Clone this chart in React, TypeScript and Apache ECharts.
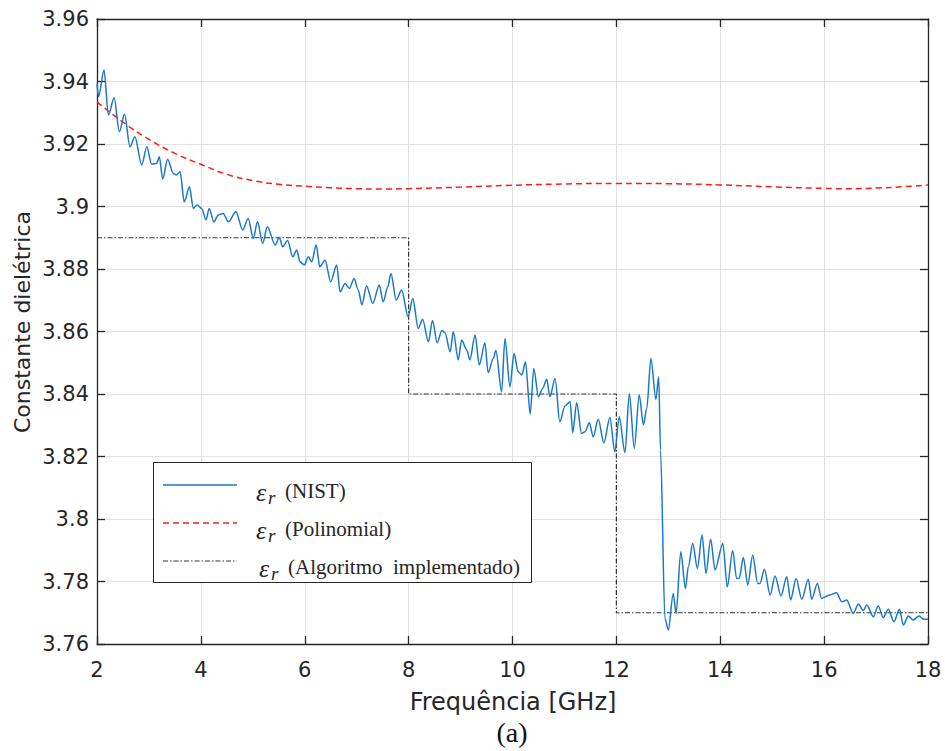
import React, { useEffect, useRef } from "react";
import * as echarts from "echarts";

// ---- data ----
const nistFreq = [
  2.0, 2.03, 2.135, 2.22, 2.33, 2.43, 2.53, 2.635, 2.73, 2.86,
  2.96, 3.05, 3.15, 3.2, 3.265, 3.36, 3.47, 3.53, 3.6, 3.68,
  3.78, 3.855, 3.93, 4.015, 4.1, 4.16, 4.25, 4.335, 4.43, 4.53,
  4.675, 4.805, 4.91, 5.01, 5.09, 5.19, 5.28, 5.43, 5.51, 5.575,
  5.67, 5.77, 5.845, 5.91, 5.99, 6.07, 6.135, 6.22, 6.29, 6.39,
  6.5, 6.615, 6.68, 6.775, 6.86, 6.95, 7.03, 7.1, 7.19, 7.31,
  7.435, 7.51, 7.6, 7.66, 7.76, 7.865, 7.99, 8.08, 8.185, 8.27,
  8.38, 8.46, 8.55, 8.64, 8.7, 8.8, 8.86, 8.955, 9.02, 9.12,
  9.18, 9.28, 9.36, 9.47, 9.53, 9.63, 9.68, 9.79, 9.855, 9.95,
  10.03, 10.11, 10.18, 10.25, 10.34, 10.41, 10.5, 10.58, 10.66, 10.72,
  10.82, 10.91, 11.01, 11.11, 11.16, 11.235, 11.33, 11.395, 11.48, 11.555,
  11.65, 11.76, 11.875, 11.97, 12.055, 12.165, 12.25, 12.345, 12.44, 12.52,
  12.585, 12.665, 12.76, 12.815, 12.85, 12.935, 13.0, 13.095, 13.15, 13.24,
  13.33, 13.385, 13.47, 13.56, 13.65, 13.725, 13.815, 13.9, 14.05, 14.135,
  14.24, 14.315, 14.365, 14.445, 14.53, 14.625, 14.72, 14.765, 14.85, 14.96,
  15.055, 15.17, 15.28, 15.355, 15.46, 15.57, 15.695, 15.76, 15.87, 15.95,
  16.11, 16.24, 16.34, 16.435, 16.56, 16.66, 16.755, 16.82, 16.95, 17.04,
  17.14, 17.235, 17.345, 17.45, 17.525, 17.62, 17.715, 17.83, 17.91, 18.0,
];
const nistEps = [
  3.9394, 3.9351, 3.9437, 3.9293, 3.9348, 3.9239, 3.9295, 3.9191, 3.9223, 3.9133,
  3.9191, 3.9136, 3.9138, 3.9159, 3.9088, 3.9151, 3.9106, 3.9101, 3.9111, 3.9015,
  3.9063, 3.8994, 3.9005, 3.8994, 3.8957, 3.8994, 3.8951, 3.8973, 3.8978, 3.8951,
  3.8983, 3.8925, 3.8962, 3.8898, 3.8951, 3.8882, 3.8935, 3.8877, 3.8901, 3.8871,
  3.8891, 3.8839, 3.8861, 3.8823, 3.8813, 3.8839, 3.8823, 3.8877, 3.8807, 3.8829,
  3.8759, 3.8813, 3.8727, 3.8754, 3.8738, 3.877, 3.8733, 3.8685, 3.8746, 3.869,
  3.8749, 3.8695, 3.8743, 3.8786, 3.8701, 3.8733, 3.8647, 3.8706, 3.861, 3.8639,
  3.8567, 3.8635, 3.8564, 3.8603, 3.8596, 3.8535, 3.8599, 3.8509, 3.8573, 3.8541,
  3.8509, 3.8589, 3.8493, 3.8564, 3.8468, 3.8514, 3.8539, 3.8407, 3.8578, 3.8423,
  3.853, 3.8471, 3.8461, 3.8503, 3.8336, 3.8482, 3.8391, 3.8418, 3.8447, 3.8391,
  3.845, 3.8311, 3.8362, 3.8375, 3.8276, 3.8372, 3.8274, 3.8279, 3.8308, 3.8263,
  3.8319, 3.8244, 3.8325, 3.8215, 3.8327, 3.8212, 3.8402, 3.8226, 3.8398, 3.8301,
  3.8354, 3.8514, 3.8383, 3.8455, 3.8221, 3.7682, 3.7645, 3.7762, 3.7698, 3.7895,
  3.7778, 3.7847, 3.7922, 3.7842, 3.7949, 3.7826, 3.7935, 3.7837, 3.7922, 3.7783,
  3.7899, 3.781, 3.781, 3.7877, 3.7789, 3.7885, 3.7794, 3.7794, 3.7839, 3.7757,
  3.7818, 3.7754, 3.7815, 3.7741, 3.781, 3.7743, 3.7807, 3.7743, 3.7794, 3.7746,
  3.7757, 3.7764, 3.7735, 3.7741, 3.7698, 3.7728, 3.7707, 3.7725, 3.7687, 3.7722,
  3.7685, 3.7711, 3.7671, 3.7711, 3.7661, 3.769, 3.7677, 3.769, 3.7679, 3.7679,
];
const polyFreq = [2, 2.5, 3, 3.5, 4, 4.5, 5, 5.5, 6, 6.5, 7, 7.5, 8, 9, 10, 11, 12, 13, 14, 15, 16, 16.5, 17, 17.5, 18];
const polyEps = [
  3.9335, 3.927, 3.9215, 3.917, 3.9135, 3.9103, 3.9083, 3.9071, 3.9065, 3.906,
  3.9057, 3.9056, 3.9057, 3.9062, 3.9068, 3.9072, 3.9074, 3.9073, 3.9069, 3.9063,
  3.9058, 3.9057, 3.9059, 3.9063, 3.9069,
];
const algoFreq = [2, 8, 12, 18];
const algoEps = [3.89, 3.84, 3.77, 3.77];

const seriesLabels = ["(NIST)", "(Polinomial)", "(Algoritmo  implementado)"];
const xTitle = "Frequência [GHz]";
const yTitle = "Constante dielétrica";
const caption = "(a)";

const INK = "#262626";
const BLUE = "#1a78c8";
const RED = "#ff1a1a";
const BLACK = "#333333";

export default function App() {
  const ref = useRef<HTMLDivElement>(null);
  useEffect(() => {
    const chart = echarts.init(ref.current!, null, { renderer: "svg" });
    const sans = "DejaVu Sans";
    const serif = "Liberation Serif";
    const fmt = (v: number) => String(+v.toFixed(2));
    const axisLine = { show: true, onZero: false, lineStyle: { color: INK, width: 1.3 } };
    const axisTick = { show: true, inside: true, length: 8, lineStyle: { color: INK, width: 1.3 } };
    const split = { show: true, lineStyle: { color: "#e2e2e2", width: 1 } };

    const legendRows = [485, 523, 561];
    const legendStyles = [
      { stroke: BLUE, lineWidth: 1.5, lineDash: null as any },
      { stroke: RED, lineWidth: 1.4, lineDash: [6, 4] },
      { stroke: BLACK, lineWidth: 1.2, lineDash: [5, 2, 1.5, 2] },
    ];
    const legendEls: any[] = [
      {
        type: "rect",
        shape: { x: 153.5, y: 462.5, width: 378, height: 120 },
        style: { fill: "#fff", stroke: INK, lineWidth: 1 },
        z: 100,
      },
    ];
    legendRows.forEach((ry, i) => {
      legendEls.push({
        type: "line",
        shape: { x1: 163, y1: ry, x2: 237, y2: ry },
        style: { ...legendStyles[i], fill: null },
        z: 101,
      });
      const dx = i === 2 ? 3 : 0;
      legendEls.push({
        type: "text",
        x: 256 + dx,
        y: ry + 7,
        style: { text: "ε", fontFamily: serif, fontStyle: "italic", fontSize: 26, fill: INK, align: "left", verticalAlign: "middle" },
        z: 101,
      });
      legendEls.push({
        type: "text",
        x: 268 + dx,
        y: ry + 12,
        style: { text: "r", fontFamily: serif, fontStyle: "italic", fontSize: 19, fill: INK, align: "left", verticalAlign: "middle" },
        z: 101,
      });
      legendEls.push({
        type: "text",
        x: 285 + dx,
        y: ry + 6,
        style: { text: seriesLabels[i], fontFamily: serif, fontSize: 21, fill: INK, align: "left", verticalAlign: "middle" },
        z: 101,
      });
    });

    chart.setOption({
      animation: false,
      backgroundColor: "#fff",
      grid: { left: 97, right: 17, top: 19, bottom: 107, containLabel: false },
      xAxis: [
        {
          type: "value", min: 2, max: 18, interval: 2, position: "bottom",
          axisLine, axisTick, splitLine: split,
          axisLabel: { color: INK, fontSize: 21, fontFamily: sans, margin: 15, formatter: fmt },
        },
        {
          type: "value", min: 2, max: 18, interval: 2, position: "top",
          axisLine, axisTick, splitLine: { show: false }, axisLabel: { show: false },
        },
      ],
      yAxis: [
        {
          type: "value", min: 3.76, max: 3.96, interval: 0.02, position: "left",
          axisLine, axisTick, splitLine: split,
          axisLabel: { color: INK, fontSize: 21, fontFamily: sans, margin: 8, formatter: fmt },
        },
        {
          type: "value", min: 3.76, max: 3.96, interval: 0.02, position: "right",
          axisLine, axisTick, splitLine: { show: false }, axisLabel: { show: false },
        },
      ],
      series: [
        {
          name: seriesLabels[0], type: "line", xAxisIndex: 0, yAxisIndex: 0,
          data: nistFreq.map((f, i) => [f, nistEps[i]]),
          showSymbol: false, smooth: 0.3, smoothMonotone: "x",
          lineStyle: { color: BLUE, width: 1.5 }, z: 5,
        },
        {
          name: seriesLabels[1], type: "line", xAxisIndex: 0, yAxisIndex: 0,
          data: polyFreq.map((f, i) => [f, polyEps[i]]),
          showSymbol: false, smooth: true,
          lineStyle: { color: RED, width: 1.5, type: [6, 4] }, z: 4,
        },
        {
          name: seriesLabels[2], type: "line", xAxisIndex: 0, yAxisIndex: 0,
          data: algoFreq.map((f, i) => [f, algoEps[i]]),
          showSymbol: false, step: "end",
          lineStyle: { color: BLACK, width: 1.2, type: [5, 2, 1.5, 2] }, z: 3,
        },
      ],
      graphic: [
        {
          type: "text", x: 513, y: 702,
          style: { text: xTitle, fontFamily: sans, fontSize: 24, fill: INK, align: "center", verticalAlign: "middle" },
        },
        {
          type: "text", x: 22, y: 322, rotation: Math.PI / 2,
          style: { text: yTitle, fontFamily: sans, fontSize: 22, fill: INK, align: "center", verticalAlign: "middle" },
        },
        {
          type: "text", x: 512, y: 732,
          style: { text: caption, fontFamily: serif, fontSize: 28, fill: "#111", align: "center", verticalAlign: "middle" },
        },
        ...legendEls,
      ],
    });
    return () => chart.dispose();
  }, []);
  return (
    <div
      ref={ref}
      style={{ position: "fixed", left: 0, top: 0, width: 945, height: 751, background: "#fff" }}
    />
  );
}
